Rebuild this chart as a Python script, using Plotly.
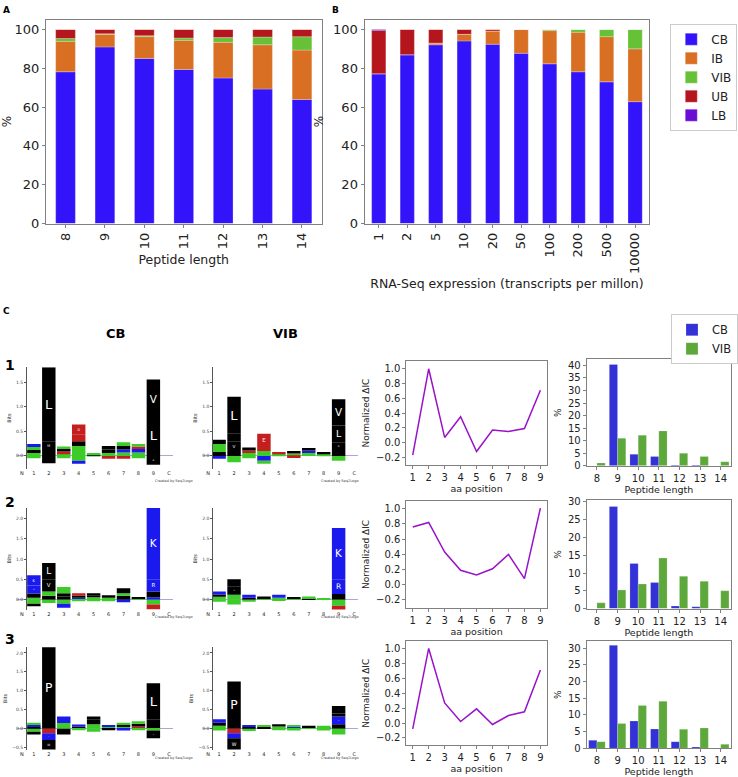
import plotly.graph_objects as go

W, H = 738, 777
FONT = "DejaVu Sans"

# ---- colours
C_CB, C_IB, C_VIB, C_UB, C_LB = "#3314fa", "#d96f22", "#66c136", "#b5161d", "#6a0cd8"
C2_CB, C2_VIB = "#3232d6", "#5da83b"
LINE_COL = "#9a12c8"

# ---- panel A: binding class by peptide length (%)
lengths = ["8", "9", "10", "11", "12", "13", "14"]
a_cb = [78.2, 91.0, 85.1, 79.4, 75.0, 69.3, 63.9]
a_ib = [15.7, 6.5, 11.2, 15.0, 18.4, 22.8, 25.5]
a_vib = [1.4, 0.3, 0.5, 1.2, 2.4, 4.0, 6.9]
a_ub = [4.7, 2.2, 3.2, 4.4, 4.2, 3.9, 3.7]
a_lb = [0, 0, 0, 0, 0, 0, 0]

# ---- panel B: binding class by expression (%)
tpm = ["1", "2", "5", "10", "20", "50", "100", "200", "500", "10000"]
b_cb = [77.2, 87.0, 92.1, 94.1, 92.4, 87.7, 82.3, 78.2, 73.0, 62.8]
b_ib = [0, 0, 0.9, 3.4, 6.8, 12.3, 17.1, 20.4, 23.3, 27.2]
b_vib = [0, 0, 0, 0, 0, 0, 0.6, 1.4, 3.7, 10.0]
b_ub = [22.3, 13.0, 7.0, 2.5, 0.8, 0, 0, 0, 0, 0]
b_lb = [0.5, 0, 0, 0, 0, 0, 0, 0, 0, 0]

classes = ["CB", "IB", "VIB", "UB", "LB"]
class_cols = [C_CB, C_IB, C_VIB, C_UB, C_LB]

# ---- panel C: normalized delta IC per position
aa_pos = [1, 2, 3, 4, 5, 6, 7, 8, 9]
dic_1 = [-0.17, 1.0, 0.07, 0.35, -0.12, 0.17, 0.15, 0.19, 0.71]
dic_2 = [0.76, 0.82, 0.43, 0.19, 0.13, 0.21, 0.40, 0.08, 1.01]
dic_3 = [-0.08, 1.0, 0.27, 0.02, 0.19, -0.02, 0.10, 0.15, 0.71]

# ---- panel C: length distribution (%)
len_cb_1 = [0, 40.4, 4.6, 3.7, 0.3, 0.3, 0]
len_vib_1 = [1.1, 11.0, 12.2, 13.9, 5.0, 3.7, 1.6]
len_cb_2 = [0, 28.7, 12.7, 7.3, 0.7, 0.5, 0]
len_vib_2 = [1.6, 5.2, 6.9, 14.2, 9.1, 7.7, 5.0]
len_cb_3 = [2.4, 30.8, 8.2, 5.8, 2.0, 0.4, 0]
len_vib_3 = [2.0, 7.4, 12.8, 14.1, 5.7, 6.1, 1.2]

# ---- sequence logos: (position, residue, bits); negative bits drawn below zero
LOGO_1_CB = [(1, "T", 0.06), (1, "A", 0.06), (1, "S", 0.06), (1, "R", 0.06), (1, "G", -0.05),
             (2, "I", 0.1), (2, "M", 0.2), (2, "L", 1.5), (2, "V", -0.15),
             (3, "Q", 0.05), (3, "E", 0.04), (3, "A", 0.05), (3, "T", 0.05), (3, "S", -0.05),
             (4, "S", 0.1), (4, "G", 0.1), (4, "P", 0.1), (4, "E", 0.14), (4, "D", 0.2), (4, "N", -0.1), (4, "K", -0.06),
             (5, "A", 0.03), (5, "S", 0.03),
             (6, "T", 0.06), (6, "A", 0.07), (6, "V", 0.07), (6, "E", -0.06),
             (7, "S", 0.07), (7, "R", 0.06), (7, "A", 0.07), (7, "Y", 0.08), (7, "D", -0.06),
             (8, "G", 0.07), (8, "K", 0.07), (8, "E", 0.05), (8, "T", 0.05), (8, "S", -0.05),
             (9, "I", 0.1), (9, "L", 0.65), (9, "V", 0.8), (9, "A", -0.18)]
LOGO_1_VIB = [(1, "A", 0.08), (1, "S", 0.08), (1, "T", 0.08), (1, "F", 0.09), (1, "K", -0.06),
              (2, "M", 0.08), (2, "V", 0.22), (2, "I", 0.15), (2, "L", 0.75), (2, "G", -0.13),
              (3, "S", 0.06), (3, "E", 0.05), (3, "A", 0.06), (3, "T", -0.05),
              (4, "G", 0.1), (4, "D", 0.1), (4, "E", 0.25), (4, "K", -0.1), (4, "N", -0.06),
              (5, "S", 0.04), (5, "E", 0.04),
              (6, "T", 0.05), (6, "A", 0.05), (6, "E", -0.04),
              (7, "S", 0.06), (7, "K", 0.05), (7, "V", 0.05),
              (8, "G", 0.04), (8, "A", 0.04),
              (9, "I", 0.1), (9, "A", 0.18), (9, "L", 0.34), (9, "V", 0.53), (9, "G", -0.1)]
LOGO_2_CB = [(1, "G", 0.05), (1, "A", 0.1), (1, "R", 0.2), (1, "K", 0.25), (1, "S", -0.1), (1, "A", -0.06),
             (2, "I", 0.1), (2, "T", 0.1), (2, "V", 0.3), (2, "L", 0.4), (2, "S", -0.08),
             (3, "A", 0.08), (3, "F", 0.08), (3, "Y", 0.15), (3, "G", -0.1), (3, "K", -0.1),
             (4, "K", 0.05), (4, "A", 0.05), (4, "D", 0.06), (4, "S", -0.04),
             (5, "S", 0.06), (5, "A", 0.05), (5, "V", 0.05), (5, "G", -0.04),
             (6, "T", 0.05), (6, "A", 0.06), (6, "S", -0.04),
             (7, "V", 0.1), (7, "T", 0.06), (7, "L", 0.12), (7, "K", -0.06),
             (8, "S", 0.03), (8, "A", 0.03),
             (9, "H", 0.06), (9, "V", 0.14), (9, "R", 0.3), (9, "K", 1.75), (9, "G", -0.12), (9, "D", -0.12)]
LOGO_2_VIB = [(1, "S", 0.07), (1, "A", 0.06), (1, "K", 0.07), (1, "G", -0.05),
              (2, "T", 0.12), (2, "V", 0.2), (2, "L", 0.18), (2, "S", -0.12),
              (3, "A", 0.05), (3, "R", 0.07), (3, "S", -0.05),
              (4, "S", 0.04), (4, "A", 0.04),
              (5, "T", 0.05), (5, "K", 0.07), (5, "G", -0.03),
              (6, "S", 0.03), (6, "A", 0.03),
              (7, "A", 0.04), (7, "T", 0.04),
              (8, "S", 0.03),
              (9, "V", 0.14), (9, "R", 0.36), (9, "K", 1.26), (9, "G", -0.15), (9, "E", -0.15)]
LOGO_3_CB = [(1, "A", 0.05), (1, "K", 0.05), (1, "S", 0.06), (1, "G", -0.08), (1, "V", -0.07),
             (2, "P", 2.15), (2, "E", -0.12), (2, "K", -0.18), (2, "W", -0.25),
             (3, "S", 0.07), (3, "T", 0.08), (3, "R", 0.17), (3, "A", -0.15),
             (4, "A", 0.05), (4, "K", 0.06), (4, "S", -0.04),
             (5, "S", 0.12), (5, "A", 0.12), (5, "F", 0.08), (5, "G", -0.08),
             (6, "T", 0.05), (6, "K", 0.05), (6, "A", -0.04),
             (7, "S", 0.06), (7, "A", 0.05), (7, "T", 0.05), (7, "K", -0.05),
             (8, "E", 0.06), (8, "A", 0.07), (8, "S", 0.07), (8, "G", -0.04),
             (9, "V", 0.1), (9, "M", 0.15), (9, "L", 0.95), (9, "S", -0.05), (9, "A", -0.2)]
LOGO_3_VIB = [(1, "S", 0.08), (1, "A", 0.08), (1, "K", 0.09), (1, "G", -0.05),
              (2, "P", 1.25), (2, "E", -0.12), (2, "K", -0.13), (2, "W", -0.3),
              (3, "A", 0.05), (3, "K", 0.05), (3, "S", -0.06),
              (4, "A", 0.05), (4, "T", 0.05),
              (5, "S", 0.06), (5, "A", 0.06), (5, "G", -0.04),
              (6, "K", 0.05), (6, "T", 0.05), (6, "S", -0.05),
              (7, "S", 0.04), (7, "A", 0.04),
              (8, "A", 0.04), (8, "S", 0.04), (8, "G", -0.05),
              (9, "V", 0.12), (9, "K", 0.2), (9, "I", 0.08), (9, "L", 0.2), (9, "T", -0.15)]

RESIDUE_COL = {}
for aa in "AVLIMPFW":
    RESIDUE_COL[aa] = "#000000"
for aa in "KRH":
    RESIDUE_COL[aa] = "#1a1aee"
for aa in "DE":
    RESIDUE_COL[aa] = "#c41e1e"
for aa in "STYGNQC":
    RESIDUE_COL[aa] = "#3ccc28"


def dx(left, right):
    return [left / W, right / W]


def dy(top, bottom):
    return [1 - bottom / H, 1 - top / H]


fig = go.Figure()
layout = {}

frame = dict(showline=True, linecolor="#808080", linewidth=1, mirror=True, ticks="outside",
             ticklen=3, tickcolor="#808080", showgrid=False, zeroline=False)

# ---------- panels A and B (manual stacking with base)
for n, cats, series, xtitle, dom, show in [
    (1, lengths, [a_cb, a_ib, a_vib, a_ub, a_lb], "Peptide length", dx(44, 321), True),
    (2, tpm, [b_cb, b_ib, b_vib, b_ub, b_lb], "RNA-Seq expression (transcripts per millon)", dx(364, 650), False),
]:
    base = [0.0] * len(cats)
    for name, col, vals in zip(classes, class_cols, series):
        fig.add_trace(go.Bar(
            x=cats, y=vals, base=list(base), name=name, marker_color=col,
            marker_line=dict(color="rgba(255,255,255,0.5)", width=0.5),
            width=0.5, offsetgroup=f"ab{n}", xaxis=f"x{n}", yaxis=f"y{n}",
            showlegend=show, legendgroup=name, legend="legend",
        ))
        base = [b + v for b, v in zip(base, vals)]
    sfx = "" if n == 1 else str(n)
    layout[f"xaxis{sfx}"] = dict(frame, domain=dom, anchor=f"y{n}", type="category",
                                 range=[-0.5, len(cats) - 0.5], tickangle=-90,
                                 tickfont=dict(size=13),
                                 title=dict(text=xtitle, font=dict(size=12.5), standoff=6))
    layout[f"yaxis{sfx}"] = dict(frame, domain=dy(16, 223), anchor=f"x{n}", range=[0, 105],
                                 tickvals=[0, 20, 40, 60, 80, 100], tickfont=dict(size=13),
                                 title=dict(text="%", font=dict(size=12), standoff=6))

# ---------- panel C
logos = [(LOGO_1_CB, LOGO_1_VIB, 369, 472, [-0.26, 1.8], [0.0, 0.5, 1.0, 1.5]),
         (LOGO_2_CB, LOGO_2_VIB, 512, 615, [-0.24, 2.25], [0.0, 0.5, 1.0, 1.5, 2.0]),
         (LOGO_3_CB, LOGO_3_VIB, 653, 758, [-0.57, 2.16], [-0.5, 0.0, 0.5, 1.0, 1.5, 2.0])]
lines = [(dic_1, 363, 468), (dic_2, 505, 613), (dic_3, 647, 753)]
lenbars = [(len_cb_1, len_vib_1, 361, 469, 42.4, [0, 5, 10, 15, 20, 25, 30, 35, 40]),
           (len_cb_2, len_vib_2, 504, 614, 30.5, [0, 5, 10, 15, 20, 25, 30]),
           (len_cb_3, len_vib_3, 647, 756, 32.1, [0, 5, 10, 15, 20, 25, 30])]

annotations = []
ax = 3
for row in range(3):
    cb_logo, vib_logo, top, bot, yr, yt = logos[row]
    for logo, (l, r, axis_px, n_pos, c_pos) in [
        (cb_logo, (15.5, 171.5, 24, 0.2, 10.05)),
        (vib_logo, (201.5, 357.5, 211, 0.27, 10.05)),
    ]:
        up, down = {}, {}
        xs, ys, bases, cols, txt = [], [], [], [], []
        for p, aa, h in logo:
            if h >= 0:
                b0 = up.get(p, 0.0)
                up[p] = b0 + h
            else:
                b0 = down.get(p, 0.0)
                down[p] = b0 + h
            xs.append(p)
            ys.append(h)
            bases.append(b0)
            cols.append(RESIDUE_COL[aa])
            txt.append(aa if abs(h) >= 0.18 else "")
        fig.add_trace(go.Bar(
            x=xs, y=ys, base=bases, marker_color=cols, marker_line_width=0, width=0.9,
            text=txt, textposition="inside", insidetextanchor="middle", textangle=0,
            textfont=dict(color="white", size=14, family=FONT), showlegend=False,
            xaxis=f"x{ax}", yaxis=f"y{ax}", hoverinfo="skip",
        ))
        layout[f"xaxis{ax}"] = dict(domain=dx(l, r), anchor=f"y{ax}", range=[-0.1, 10.3],
                                    showline=False, showgrid=False, zeroline=False,
                                    tickvals=[n_pos] + aa_pos + [c_pos],
                                    ticktext=["N"] + [str(p) for p in aa_pos] + ["C"],
                                    tickfont=dict(size=5), ticklen=0)
        layout[f"yaxis{ax}"] = dict(domain=dy(top, bot), anchor="free", position=axis_px / W,
                                    range=yr, tickvals=yt, tickformat=".1f",
                                    showline=True, linecolor="#555", linewidth=0.8,
                                    ticks="outside", ticklen=2, tickcolor="#555",
                                    tickfont=dict(size=4.5, color="#444"), showgrid=False,
                                    zeroline=True, zerolinecolor="#a8a8d8", zerolinewidth=1,
                                    title=dict(text="Bits", font=dict(size=5), standoff=3))
        annotations.append(dict(text="Created by Seq2Logo", x=(axis_px + 128) / W,
                                y=1 - (bot + 12) / H, xref="paper", yref="paper",
                                showarrow=False, font=dict(size=3.5, color="#444")))
        ax += 1

    # normalized delta-IC line
    dic, top, bot = lines[row]
    fig.add_trace(go.Scatter(x=aa_pos, y=dic, mode="lines", line=dict(color=LINE_COL, width=1.5),
                             showlegend=False, xaxis=f"x{ax}", yaxis=f"y{ax}"))
    layout[f"xaxis{ax}"] = dict(frame, domain=dx(406, 547), anchor=f"y{ax}", range=[0.6, 9.4],
                                tickvals=aa_pos, tickfont=dict(size=10),
                                title=dict(text="aa position", font=dict(size=9.5), standoff=2))
    layout[f"yaxis{ax}"] = dict(frame, domain=dy(top, bot), anchor=f"x{ax}", range=[-0.3, 1.1],
                                tickvals=[-0.2, 0.0, 0.2, 0.4, 0.6, 0.8, 1.0], tickformat=".1f",
                                tickfont=dict(size=10),
                                title=dict(text="Normalized ΔIC", font=dict(size=9), standoff=4))
    ax += 1

    # length distribution CB vs VIB
    cbv, vibv, top, bot, ymax, yt = lenbars[row]
    for name, col, vals, off in [("CB", C2_CB, cbv, -0.4), ("VIB", C2_VIB, vibv, 0.0)]:
        fig.add_trace(go.Bar(x=lengths, y=vals, name=name, marker_color=col,
                             marker_line=dict(color="rgba(255,255,255,0.4)", width=0.5),
                             width=0.4, offset=off, offsetgroup=f"{name}{row}",
                             showlegend=(row == 0), legend="legend2",
                             xaxis=f"x{ax}", yaxis=f"y{ax}"))
    layout[f"xaxis{ax}"] = dict(frame, domain=dx(587, 732), anchor=f"y{ax}", type="category",
                                range=[-0.5, 6.5], tickfont=dict(size=10),
                                title=dict(text="Peptide length", font=dict(size=9.5), standoff=2))
    layout[f"yaxis{ax}"] = dict(frame, domain=dy(top, bot), anchor=f"x{ax}", range=[0, ymax],
                                tickvals=yt, tickfont=dict(size=10),
                                title=dict(text="%", font=dict(size=9), standoff=4))
    ax += 1

# panel / row labels
for txt, x, y, size in [("A", 5, 6, 9), ("B", 335, 6, 9), ("C", 5, 312, 9),
                        ("1", 8, 367, 14), ("2", 8, 506, 14), ("3", 8, 645, 14)]:
    annotations.append(dict(text=f"<b>{txt}</b>", x=x / W, y=1 - y / H, xref="paper", yref="paper",
                            xanchor="center", yanchor="middle", showarrow=False,
                            font=dict(size=size, color="black")))
for txt, x in [("CB", 102), ("VIB", 285)]:
    annotations.append(dict(text=f"<b>{txt}</b>", x=x / W, y=1 - 335 / H, xref="paper", yref="paper",
                            showarrow=False, font=dict(size=13, color="black")))

fig.update_layout(
    width=W, height=H, margin=dict(l=0, r=0, t=0, b=0),
    plot_bgcolor="white", paper_bgcolor="white",
    font=dict(family=FONT, color="#222"),
    barmode="group",
    annotations=annotations,
    legend=dict(x=671 / W, y=1 - 20 / H, xanchor="left", yanchor="top",
                bordercolor="#cccccc", borderwidth=1, font=dict(size=12),
                itemwidth=30, tracegroupgap=0),
    legend2=dict(x=672 / W, y=1 - 315 / H, xanchor="left", yanchor="top",
                 bordercolor="#cccccc", borderwidth=1, font=dict(size=11.5), itemwidth=30),
    **layout,
)

# page has a default body margin; drop it so the figure fills the window exactly
fig.write_html("out.html", config={"displayModeBar": False},
               post_script="document.body.style.margin='0';"
                           "document.body.style.overflow='hidden';")
